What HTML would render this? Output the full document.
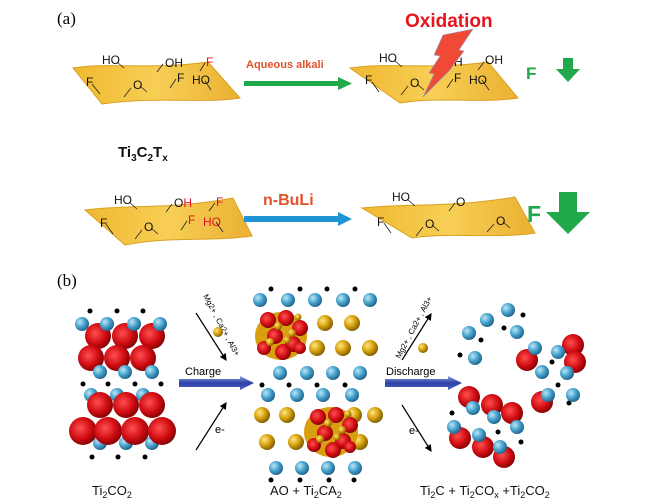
<!DOCTYPE html>
<html><head><meta charset="utf-8"><style>
html,body{margin:0;padding:0;background:#fff;}
svg{display:block;font-family:"Liberation Sans",sans-serif;}
</style></head><body>
<svg width="650" height="504" viewBox="0 0 650 504" xmlns="http://www.w3.org/2000/svg">
<defs>
<linearGradient id="gold" x1="0" y1="0" x2="1" y2="0">
<stop offset="0" stop-color="#f0b830"/><stop offset="0.5" stop-color="#f7cf55"/><stop offset="1" stop-color="#eab032"/></linearGradient>
<radialGradient id="rb" cx="0.35" cy="0.35" r="0.7"><stop offset="0" stop-color="#bfe6f5"/><stop offset="0.5" stop-color="#4aa6d0"/><stop offset="1" stop-color="#1d5f86"/></radialGradient>
<radialGradient id="rr" cx="0.4" cy="0.4" r="0.7"><stop offset="0" stop-color="#ff5050"/><stop offset="0.55" stop-color="#d00c12"/><stop offset="1" stop-color="#6a0000"/></radialGradient>
<radialGradient id="ry" cx="0.35" cy="0.35" r="0.7"><stop offset="0" stop-color="#ffe680"/><stop offset="0.5" stop-color="#d9a310"/><stop offset="1" stop-color="#7a5a00"/></radialGradient>
<linearGradient id="barr" x1="0" y1="0" x2="0" y2="1"><stop offset="0" stop-color="#8da0e0"/><stop offset="0.5" stop-color="#2c3fa8"/><stop offset="1" stop-color="#5065c0"/></linearGradient>
<marker id="ah" markerWidth="6" markerHeight="6" refX="5" refY="3" orient="auto"><path d="M0,0 L6,3 L0,6 Z" fill="#000"/></marker>
</defs>

<!-- (a) -->
<text x="57" y="24" font-family="Liberation Serif,serif" font-size="17">(a)</text>
<text x="405" y="27" font-size="19" font-weight="bold" fill="#e8141c">Oxidation</text>

<g font-size="12" fill="#111">
<!-- sheet 1 -->
<path d="M73,68 C110,62 150,70 208,62 L240,98 C200,104 160,96 102,104 Z" fill="url(#gold)" stroke="#d9a020" stroke-width="1"/>
<text x="102" y="64">HO</text><text x="165" y="67">OH</text><text x="206" y="66" fill="#e01020">F</text>
<text x="86" y="86">F</text><text x="133" y="89">O</text><text x="177" y="82">F</text><text x="192" y="84">HO</text>
<g stroke="#222" stroke-width="0.8" fill="none">
<path d="M117,62 L124,68 M163,64 L157,72 M205,63 L200,71 M92,84 L100,94 M140,86 L147,92 M131,88 L124,97 M176,79 L170,88 M205,81 L211,90"/>
</g>
<!-- arrow green -->
<text x="246" y="68" font-size="11" font-weight="bold" fill="#e0522a">Aqueous alkali</text>
<rect x="244" y="81" width="96" height="5" fill="#20a84a"/><path d="M338,77 L352,83.5 L338,90 Z" fill="#20a84a"/>
<!-- sheet 2 -->
<path d="M350,68 C390,62 430,70 488,62 L518,98 C480,104 440,96 400,103 Z" fill="url(#gold)" stroke="#d9a020" stroke-width="1"/>
<text x="379" y="62">HO</text><text x="454" y="66">H</text><text x="485" y="64">OH</text>
<text x="365" y="84">F</text><text x="410" y="87">O</text><text x="454" y="82">F</text><text x="469" y="84">HO</text>
<g stroke="#222" stroke-width="0.8" fill="none">
<path d="M394,60 L402,67 M484,62 L478,70 M372,82 L379,92 M417,84 L424,90 M408,86 L401,95 M453,79 L447,88 M482,80 L489,90"/>
</g>
<path d="M443,35 L473,29 L459,50 L464,51 L449,71 L423,97 L434,74 L429,73 L440,56 L434,55 Z" fill="#ee4a36" stroke="#8aa0c8" stroke-width="0.6"/>
<text x="526" y="79" font-size="17" font-weight="bold" fill="#20a84a">F</text>
<path d="M563,58 L573,58 L573,69 L580,69 L568,82 L556,69 L563,69 Z" fill="#20a84a"/>

<text x="118" y="157" font-size="15" font-weight="bold">Ti<tspan font-size="10" dy="4">3</tspan><tspan dy="-4">C</tspan><tspan font-size="10" dy="4">2</tspan><tspan dy="-4">T</tspan><tspan font-size="10" dy="4">x</tspan></text>

<!-- sheet 3 -->
<path d="M85,210 C130,204 170,210 233,198 L252,236 C210,242 170,236 125,245 Z" fill="url(#gold)" stroke="#d9a020" stroke-width="1"/>
<text x="114" y="204">HO</text><text x="174" y="207">O<tspan fill="#e01020">H</tspan></text><text x="216" y="206" fill="#e01020">F</text>
<text x="100" y="227">F</text><text x="144" y="231">O</text><text x="188" y="224" fill="#e01020">F</text><text x="203" y="226" fill="#e01020">HO</text>
<g stroke="#222" stroke-width="0.8" fill="none">
<path d="M129,202 L137,209 M172,204 L166,212 M215,203 L209,211 M106,224 L113,234 M151,228 L158,234 M142,230 L135,239 M187,221 L181,230 M216,222 L223,232"/>
</g>
<text x="263" y="205" font-size="16" font-weight="bold" fill="#e0522a">n-BuLi</text>
<rect x="244" y="216" width="96" height="6" fill="#1f95d6"/><path d="M338,212 L352,219 L338,226 Z" fill="#1f95d6"/>
<!-- sheet 4 -->
<path d="M362,208 C410,203 450,208 515,197 L535,233 C495,239 450,232 412,238 Z" fill="url(#gold)" stroke="#d9a020" stroke-width="1"/>
<text x="392" y="201">HO</text><text x="456" y="206">O</text>
<text x="377" y="226">F</text><text x="425" y="228">O</text><text x="496" y="225">O</text>
<g stroke="#222" stroke-width="0.8" fill="none">
<path d="M407,199 L415,206 M455,203 L449,211 M384,223 L391,233 M432,225 L439,231 M423,227 L416,236 M503,222 L510,228 M494,224 L487,232"/>
</g>
<text x="527" y="222" font-size="23" font-weight="bold" fill="#20a84a">F</text>
<path d="M559,192 L577,192 L577,212 L590,212 L568,234 L546,212 L559,212 Z" fill="#20a84a"/>
</g>

<!-- (b) -->
<text x="57" y="286" font-family="Liberation Serif,serif" font-size="17">(b)</text>

<g id="left">
<g fill="#000">
<circle cx="90" cy="311" r="2.5"/><circle cx="117" cy="311" r="2.5"/><circle cx="143" cy="311" r="2.5"/>
<circle cx="83" cy="384" r="2.5"/><circle cx="108" cy="384" r="2.5"/><circle cx="135" cy="384" r="2.5"/><circle cx="161" cy="384" r="2.5"/>
<circle cx="92" cy="457" r="2.5"/><circle cx="118" cy="457" r="2.5"/><circle cx="145" cy="457" r="2.5"/>
</g>
<g fill="url(#rb)">
<circle cx="91" cy="395" r="7"/><circle cx="117" cy="395" r="7"/><circle cx="143" cy="395" r="7"/>
<circle cx="100" cy="443" r="7"/><circle cx="126" cy="443" r="7"/><circle cx="152" cy="443" r="7"/>
</g>
<g fill="url(#rr)">
<circle cx="98" cy="336" r="13"/><circle cx="125" cy="336" r="13"/><circle cx="152" cy="336" r="13"/>
<circle cx="91" cy="358" r="13"/><circle cx="117" cy="358" r="13"/><circle cx="143" cy="358" r="13"/>
<circle cx="100" cy="405" r="13"/><circle cx="126" cy="405" r="13"/><circle cx="152" cy="405" r="13"/>
<circle cx="83" cy="431" r="14"/><circle cx="108" cy="431" r="14"/><circle cx="135" cy="431" r="14"/><circle cx="162" cy="431" r="14"/>
</g>
<g fill="url(#rb)">
<circle cx="82" cy="324" r="7"/><circle cx="107" cy="324" r="7"/><circle cx="134" cy="324" r="7"/><circle cx="160" cy="324" r="7"/>
<circle cx="100" cy="372" r="7"/><circle cx="125" cy="372" r="7"/><circle cx="152" cy="372" r="7"/>
</g>
</g>

<!-- charge arrows -->
<line x1="196" y1="313" x2="226" y2="360" stroke="#000" stroke-width="1.2" marker-end="url(#ah)"/>
<line x1="196" y1="450" x2="226" y2="403" stroke="#000" stroke-width="1.2" marker-end="url(#ah)"/>
<text font-size="8" transform="translate(203,296) rotate(62)">Mg2+ , Ca2+ , Al3+</text>
<text x="215" y="433" font-size="11">e-</text>
<text x="185" y="375" font-size="11">Charge</text>
<path d="M179,379 L240,379 L240,376 L254,383 L240,390 L240,387 L179,387 Z" fill="url(#barr)"/>
<circle cx="218" cy="332" r="5" fill="url(#ry)"/>

<!-- middle -->
<g fill="#000">
<circle cx="271" cy="289" r="2.5"/><circle cx="300" cy="289" r="2.5"/><circle cx="327" cy="289" r="2.5"/><circle cx="355" cy="289" r="2.5"/>
<circle cx="262" cy="385" r="2.5"/><circle cx="289" cy="385" r="2.5"/><circle cx="317" cy="385" r="2.5"/><circle cx="345" cy="385" r="2.5"/>
<circle cx="271" cy="480" r="2.5"/><circle cx="300" cy="480" r="2.5"/><circle cx="329" cy="480" r="2.5"/><circle cx="354" cy="480" r="2.5"/>
</g>
<g fill="url(#rb)">
<circle cx="260" cy="300" r="7"/><circle cx="288" cy="300" r="7"/><circle cx="315" cy="300" r="7"/><circle cx="343" cy="300" r="7"/><circle cx="370" cy="300" r="7"/>
<circle cx="280" cy="373" r="7"/><circle cx="307" cy="373" r="7"/><circle cx="333" cy="373" r="7"/><circle cx="360" cy="373" r="7"/>
<circle cx="268" cy="395" r="7"/><circle cx="297" cy="395" r="7"/><circle cx="323" cy="395" r="7"/><circle cx="352" cy="395" r="7"/>
<circle cx="276" cy="468" r="7"/><circle cx="302" cy="468" r="7"/><circle cx="328" cy="468" r="7"/><circle cx="355" cy="468" r="7"/>
</g>
<g fill="url(#ry)">
<circle cx="325" cy="323" r="8"/><circle cx="352" cy="323" r="8"/>
<circle cx="317" cy="348" r="8"/><circle cx="343" cy="348" r="8"/><circle cx="370" cy="348" r="8"/>
<circle cx="262" cy="415" r="8"/><circle cx="287" cy="415" r="8"/><circle cx="354" cy="415" r="8"/><circle cx="375" cy="415" r="8"/>
<circle cx="267" cy="442" r="8"/><circle cx="296" cy="442" r="8"/><circle cx="360" cy="442" r="8"/>
</g>
<g>
<ellipse cx="281" cy="336" rx="26" ry="24" fill="#d8a010"/>
<g fill="url(#rr)">
<circle cx="268" cy="320" r="8"/><circle cx="286" cy="318" r="8"/><circle cx="300" cy="328" r="8"/><circle cx="275" cy="336" r="8"/><circle cx="293" cy="344" r="8"/><circle cx="264" cy="348" r="7"/><circle cx="283" cy="352" r="8"/><circle cx="300" cy="348" r="6"/>
</g>
<g fill="url(#ry)"><circle cx="278" cy="326" r="4"/><circle cx="292" cy="333" r="4"/><circle cx="270" cy="342" r="4"/><circle cx="287" cy="340" r="3.5"/><circle cx="298" cy="317" r="3.5"/></g>
</g>
<g>
<ellipse cx="331" cy="432" rx="27" ry="25" fill="#d8a010"/>
<g fill="url(#rr)">
<circle cx="318" cy="417" r="8"/><circle cx="336" cy="415" r="8"/><circle cx="350" cy="425" r="8"/><circle cx="325" cy="433" r="8"/><circle cx="343" cy="441" r="8"/><circle cx="314" cy="445" r="7"/><circle cx="333" cy="450" r="8"/><circle cx="350" cy="447" r="6"/>
</g>
<g fill="url(#ry)"><circle cx="328" cy="423" r="4"/><circle cx="342" cy="430" r="4"/><circle cx="320" cy="439" r="4"/><circle cx="337" cy="437" r="3.5"/><circle cx="348" cy="414" r="3.5"/></g>
</g>

<!-- discharge arrows -->
<line x1="402" y1="360" x2="431" y2="314" stroke="#000" stroke-width="1.2" marker-end="url(#ah)"/>
<line x1="402" y1="405" x2="431" y2="451" stroke="#000" stroke-width="1.2" marker-end="url(#ah)"/>
<text font-size="8" transform="translate(400,359) rotate(-62)">Mg2+ , Ca2+ , Al3+</text>
<text x="409" y="434" font-size="11">e-</text>
<text x="386" y="375" font-size="11">Discharge</text>
<path d="M385,379 L448,379 L448,376 L462,383 L448,390 L448,387 L385,387 Z" fill="url(#barr)"/>
<circle cx="423" cy="348" r="5" fill="url(#ry)"/>

<!-- right -->
<g fill="#000">
<circle cx="523" cy="315" r="2.5"/><circle cx="504" cy="328" r="2.5"/><circle cx="481" cy="340" r="2.5"/><circle cx="460" cy="355" r="2.5"/><circle cx="552" cy="362" r="2.5"/><circle cx="558" cy="385" r="2.5"/><circle cx="569" cy="403" r="2.5"/><circle cx="452" cy="413" r="2.5"/><circle cx="498" cy="432" r="2.5"/><circle cx="521" cy="442" r="2.5"/>
</g>
<g fill="url(#rr)">
<circle cx="527" cy="360" r="11"/><circle cx="573" cy="345" r="11"/><circle cx="575" cy="362" r="11"/><circle cx="542" cy="402" r="11"/><circle cx="469" cy="397" r="11"/><circle cx="492" cy="405" r="11"/><circle cx="512" cy="413" r="11"/><circle cx="460" cy="438" r="11"/><circle cx="483" cy="447" r="11"/><circle cx="504" cy="457" r="11"/>
</g>
<g fill="url(#rb)">
<circle cx="508" cy="310" r="7"/><circle cx="487" cy="320" r="7"/><circle cx="517" cy="332" r="7"/><circle cx="469" cy="333" r="7"/><circle cx="475" cy="358" r="7"/><circle cx="535" cy="348" r="7"/><circle cx="558" cy="352" r="7"/><circle cx="542" cy="372" r="7"/><circle cx="567" cy="373" r="7"/><circle cx="548" cy="395" r="7"/><circle cx="573" cy="395" r="7"/><circle cx="473" cy="408" r="7"/><circle cx="494" cy="417" r="7"/><circle cx="517" cy="427" r="7"/><circle cx="454" cy="427" r="7"/><circle cx="479" cy="435" r="7"/><circle cx="500" cy="447" r="7"/>
</g>

<!-- labels -->
<g font-size="13" fill="#111">
<text x="92" y="495">Ti<tspan font-size="9" dy="3">2</tspan><tspan dy="-3">CO</tspan><tspan font-size="9" dy="3">2</tspan></text>
<text x="270" y="495">AO + Ti<tspan font-size="9" dy="3">2</tspan><tspan dy="-3">CA</tspan><tspan font-size="9" dy="3">2</tspan></text>
<text x="420" y="495">Ti<tspan font-size="9" dy="3">2</tspan><tspan dy="-3">C + Ti</tspan><tspan font-size="9" dy="3">2</tspan><tspan dy="-3">CO</tspan><tspan font-size="9" dy="3">x</tspan><tspan dy="-3">  +Ti</tspan><tspan font-size="9" dy="3">2</tspan><tspan dy="-3">CO</tspan><tspan font-size="9" dy="3">2</tspan></text>
</g>
</svg>
</body></html>
